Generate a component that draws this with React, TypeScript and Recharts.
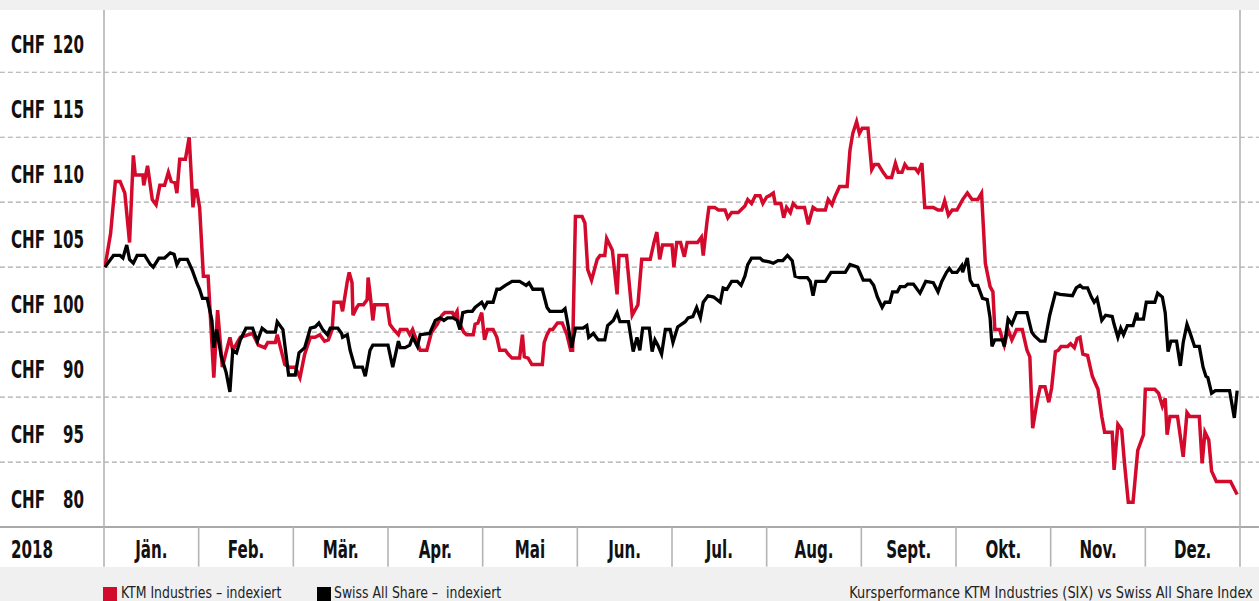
import React from "react";
import { LineChart, Line, XAxis, YAxis, ReferenceLine } from "recharts";

// ---------- data ----------
const monthLabels = ["Jän.", "Feb.", "Mär.", "Apr.", "Mai", "Jun.", "Jul.", "Aug.", "Sept.", "Okt.", "Nov.", "Dez."];
const monthTicks = [0.5, 1.5, 2.5, 3.5, 4.5, 5.5, 6.5, 7.5, 8.5, 9.5, 10.5, 11.5];
const monthBoundaries = [1, 2, 3, 4, 5, 6, 7, 8, 9, 10, 11];
const yearLabel = "2018";

const yTickValues = [82.5, 87.5, 92.5, 97.5, 102.5, 107.5, 112.5, 117.5];
const yTickNumbers = ["80", "95", "90", "100", "105", "110", "115", "120"];
const gridValues = [85, 90, 95, 100, 105, 110, 115];

const seriesNames = ["KTM Industries – indexiert", "Swiss All Share –  indexiert"];
const caption = "Kursperformance KTM Industries (SIX) vs Swiss All Share Index";

// [month position, indexed value]
const ktmSeries: [number, number][] = [
  [0.01, 100.0], [0.07, 102.6], [0.12, 106.6], [0.17, 106.6], [0.22, 105.7], [0.27, 101.9], [0.31, 108.6],
  [0.33, 107.1], [0.41, 107.1], [0.42, 106.3], [0.46, 107.8], [0.51, 105.2], [0.55, 104.8], [0.59, 106.3],
  [0.64, 106.3], [0.68, 107.3], [0.71, 106.6], [0.75, 106.5], [0.77, 105.7], [0.8, 108.3], [0.86, 108.3],
  [0.9, 110.0], [0.94, 104.6], [0.96, 105.9], [0.98, 105.9], [1.01, 104.6], [1.05, 99.3], [1.1, 99.3],
  [1.16, 91.5], [1.2, 96.7], [1.25, 92.3], [1.33, 94.6], [1.36, 93.6], [1.44, 94.6], [1.57, 94.9],
  [1.63, 94.0], [1.7, 93.8], [1.73, 94.2], [1.81, 94.2], [1.83, 94.8], [1.91, 92.5], [1.96, 92.3],
  [2.02, 92.3], [2.07, 91.5], [2.12, 93.3], [2.18, 94.6], [2.23, 94.6], [2.28, 94.8], [2.33, 94.3],
  [2.37, 94.4], [2.41, 95.2], [2.43, 97.3], [2.5, 97.3], [2.52, 96.6], [2.57, 98.9], [2.59, 99.6],
  [2.62, 98.8], [2.63, 96.3], [2.67, 96.9], [2.69, 97.1], [2.74, 97.1], [2.78, 97.5], [2.79, 99.2],
  [2.81, 98.0], [2.84, 95.9], [2.86, 97.1], [2.99, 97.1], [3.02, 95.6], [3.06, 95.2], [3.11, 94.8],
  [3.13, 95.2], [3.2, 95.2], [3.23, 94.8], [3.26, 95.2], [3.31, 94.2], [3.34, 93.6], [3.41, 93.6],
  [3.46, 95.0], [3.52, 95.6], [3.57, 96.3], [3.6, 96.5], [3.68, 96.5], [3.7, 96.2], [3.73, 96.6],
  [3.74, 95.9], [3.76, 95.6], [3.8, 95.0], [3.83, 94.8], [3.9, 94.8], [3.92, 95.6], [3.95, 95.7],
  [3.99, 96.5], [4.02, 94.4], [4.05, 95.2], [4.11, 95.2], [4.15, 94.6], [4.18, 93.6], [4.24, 93.6],
  [4.27, 93.3], [4.31, 93.0], [4.39, 93.0], [4.42, 94.8], [4.44, 93.1], [4.48, 93.0], [4.52, 92.5],
  [4.63, 92.5], [4.65, 94.2], [4.68, 94.8], [4.71, 95.2], [4.74, 95.2], [4.79, 95.7], [4.84, 95.7],
  [4.89, 94.8], [4.93, 93.6], [4.95, 93.6], [4.98, 103.9], [5.05, 103.9], [5.08, 103.4], [5.11, 99.8],
  [5.15, 99.0], [5.21, 100.6], [5.24, 100.9], [5.29, 100.9], [5.31, 102.2], [5.37, 101.3], [5.42, 97.9],
  [5.44, 100.9], [5.52, 100.9], [5.58, 96.3], [5.64, 97.1], [5.68, 100.6], [5.77, 100.6], [5.81, 101.9],
  [5.84, 102.7], [5.87, 100.6], [5.9, 101.7], [6.0, 101.7], [6.02, 100.0], [6.05, 101.9], [6.09, 101.9],
  [6.13, 100.8], [6.16, 101.9], [6.27, 101.9], [6.31, 102.3], [6.33, 100.9], [6.37, 103.5], [6.39, 104.6],
  [6.45, 104.6], [6.49, 104.4], [6.56, 104.4], [6.59, 103.8], [6.63, 104.2], [6.7, 104.2], [6.77, 104.7],
  [6.8, 105.2], [6.84, 104.9], [6.88, 105.5], [6.93, 105.5], [6.96, 104.9], [7.0, 105.4], [7.03, 105.5],
  [7.07, 105.7], [7.09, 104.9], [7.15, 104.9], [7.18, 103.8], [7.21, 104.6], [7.25, 104.2], [7.28, 104.9],
  [7.32, 104.6], [7.4, 104.6], [7.44, 103.3], [7.49, 104.6], [7.53, 104.4], [7.62, 104.4], [7.65, 105.2],
  [7.69, 104.8], [7.72, 105.4], [7.77, 106.2], [7.85, 106.2], [7.88, 109.0], [7.91, 110.3], [7.95, 111.2],
  [7.98, 110.3], [8.01, 110.7], [8.07, 110.7], [8.11, 107.5], [8.14, 107.9], [8.18, 107.9], [8.23, 107.3],
  [8.27, 106.9], [8.32, 106.9], [8.36, 108.0], [8.39, 107.3], [8.43, 107.3], [8.46, 107.9], [8.49, 107.6],
  [8.57, 107.6], [8.6, 107.3], [8.64, 108.0], [8.67, 104.6], [8.76, 104.6], [8.81, 104.4], [8.85, 104.4],
  [8.88, 105.1], [8.92, 104.0], [8.96, 104.4], [9.01, 104.4], [9.04, 104.8], [9.07, 105.2], [9.12, 105.7],
  [9.17, 105.2], [9.23, 105.2], [9.27, 105.7], [9.31, 100.3], [9.36, 98.5], [9.39, 98.1], [9.41, 95.2],
  [9.46, 95.2], [9.51, 94.0], [9.55, 95.2], [9.59, 94.4], [9.64, 95.2], [9.7, 95.2], [9.75, 93.6],
  [9.78, 93.1], [9.81, 87.6], [9.86, 89.8], [9.89, 90.8], [9.94, 90.8], [9.98, 89.6], [10.01, 90.7],
  [10.05, 93.5], [10.08, 93.6], [10.11, 93.9], [10.18, 93.9], [10.21, 94.1], [10.25, 93.8], [10.28, 94.5],
  [10.31, 94.6], [10.34, 93.3], [10.39, 93.2], [10.44, 91.6], [10.47, 91.1], [10.5, 90.6], [10.54, 88.5],
  [10.57, 87.3], [10.65, 87.3], [10.67, 84.4], [10.71, 87.9], [10.75, 87.5], [10.78, 84.9], [10.82, 81.9],
  [10.87, 81.9], [10.92, 85.9], [10.98, 87.1], [11.0, 90.6], [11.1, 90.6], [11.14, 90.3], [11.18, 89.3],
  [11.21, 89.9], [11.23, 87.1], [11.26, 88.5], [11.34, 88.5], [11.4, 85.4], [11.44, 88.8], [11.47, 88.5],
  [11.57, 88.5], [11.6, 84.9], [11.63, 87.3], [11.67, 86.7], [11.7, 84.3], [11.75, 83.5], [11.9, 83.5],
  [11.97, 82.5],
];

const sasSeries: [number, number][] = [
  [0.01, 100.0], [0.1, 100.9], [0.17, 100.9], [0.2, 100.7], [0.24, 101.7], [0.27, 100.6], [0.31, 100.3],
  [0.35, 100.9], [0.43, 100.9], [0.49, 100.2], [0.52, 100.0], [0.58, 100.7], [0.64, 100.7], [0.7, 101.1],
  [0.74, 101.0], [0.77, 100.2], [0.8, 100.6], [0.88, 100.6], [0.93, 99.8], [0.98, 98.8], [1.01, 98.3],
  [1.04, 97.6], [1.09, 97.6], [1.14, 95.9], [1.16, 93.8], [1.19, 95.2], [1.24, 93.1], [1.29, 91.9],
  [1.33, 90.4], [1.36, 93.6], [1.4, 93.4], [1.44, 94.4], [1.5, 95.3], [1.57, 95.3], [1.62, 94.3],
  [1.67, 95.3], [1.72, 95.0], [1.81, 95.0], [1.83, 95.8], [1.89, 95.2], [1.95, 91.7], [2.02, 91.7],
  [2.06, 93.4], [2.12, 93.8], [2.18, 95.3], [2.23, 95.4], [2.27, 95.7], [2.31, 95.2], [2.36, 94.8],
  [2.39, 95.3], [2.47, 95.3], [2.51, 94.9], [2.52, 94.6], [2.57, 94.8], [2.6, 93.6], [2.65, 92.3],
  [2.73, 92.3], [2.76, 91.6], [2.81, 93.6], [2.84, 94.0], [3.0, 94.0], [3.05, 92.3], [3.11, 94.3],
  [3.13, 93.8], [3.18, 93.8], [3.23, 94.0], [3.26, 94.6], [3.31, 93.9], [3.34, 94.8], [3.44, 94.9],
  [3.5, 95.9], [3.55, 96.1], [3.59, 95.9], [3.63, 96.1], [3.69, 96.1], [3.73, 95.9], [3.76, 95.2],
  [3.79, 96.5], [3.84, 96.6], [3.89, 96.6], [3.92, 96.9], [3.99, 97.3], [4.02, 96.9], [4.05, 97.3],
  [4.11, 97.3], [4.15, 98.3], [4.18, 98.3], [4.24, 98.6], [4.31, 98.9], [4.39, 98.9], [4.46, 98.6],
  [4.49, 98.8], [4.53, 98.3], [4.63, 98.3], [4.68, 96.9], [4.71, 96.6], [4.84, 96.6], [4.87, 96.8],
  [4.9, 95.6], [4.94, 93.8], [4.98, 95.3], [5.06, 95.3], [5.1, 95.5], [5.12, 94.6], [5.17, 94.9],
  [5.22, 94.4], [5.29, 94.4], [5.32, 95.5], [5.38, 95.9], [5.42, 96.5], [5.45, 95.8], [5.54, 95.8],
  [5.59, 93.5], [5.63, 94.6], [5.66, 93.6], [5.69, 95.3], [5.76, 95.3], [5.79, 93.5], [5.82, 94.4],
  [5.85, 94.0], [5.89, 93.3], [5.93, 95.2], [5.98, 95.2], [6.01, 94.2], [6.06, 95.4], [6.14, 95.8],
  [6.17, 96.1], [6.22, 96.2], [6.26, 96.9], [6.3, 96.1], [6.33, 97.3], [6.38, 97.8], [6.44, 97.7],
  [6.51, 97.3], [6.54, 98.4], [6.58, 98.3], [6.63, 98.9], [6.69, 98.9], [6.73, 98.6], [6.77, 99.3],
  [6.8, 100.2], [6.84, 100.7], [6.93, 100.7], [6.96, 100.5], [7.03, 100.4], [7.07, 100.3], [7.12, 100.5],
  [7.17, 100.5], [7.22, 100.9], [7.27, 100.5], [7.3, 99.3], [7.35, 99.2], [7.43, 99.2], [7.46, 98.9],
  [7.49, 97.8], [7.52, 98.9], [7.62, 98.9], [7.68, 99.6], [7.72, 99.6], [7.83, 99.6], [7.88, 100.2],
  [7.96, 100.0], [8.02, 99.0], [8.09, 99.0], [8.13, 98.6], [8.17, 97.7], [8.22, 96.9], [8.25, 97.3],
  [8.3, 97.3], [8.33, 98.1], [8.38, 98.1], [8.41, 98.5], [8.46, 98.5], [8.49, 98.7], [8.55, 98.7],
  [8.62, 98.0], [8.68, 98.9], [8.76, 98.8], [8.81, 98.1], [8.85, 98.9], [8.9, 99.6], [8.93, 99.9],
  [8.96, 99.6], [9.01, 99.6], [9.06, 100.1], [9.07, 99.6], [9.12, 100.7], [9.15, 99.0], [9.18, 98.6],
  [9.23, 98.6], [9.28, 97.6], [9.33, 97.5], [9.36, 96.1], [9.38, 93.9], [9.41, 94.4], [9.49, 94.4],
  [9.51, 93.9], [9.55, 96.0], [9.59, 95.6], [9.64, 96.5], [9.75, 96.5], [9.8, 95.0], [9.83, 94.7],
  [9.89, 94.3], [9.94, 94.3], [9.99, 96.3], [10.05, 98.0], [10.1, 97.9], [10.23, 97.8], [10.27, 98.4],
  [10.31, 98.6], [10.34, 98.4], [10.39, 98.4], [10.43, 97.7], [10.46, 97.3], [10.49, 97.6], [10.54, 95.9],
  [10.58, 96.3], [10.65, 96.2], [10.67, 95.6], [10.71, 94.6], [10.74, 95.3], [10.77, 94.8], [10.81, 95.5],
  [10.87, 95.5], [10.91, 96.5], [10.92, 96.0], [10.98, 96.0], [11.01, 97.3], [11.1, 97.3], [11.13, 98.0],
  [11.18, 97.7], [11.21, 96.5], [11.24, 93.5], [11.27, 94.3], [11.33, 94.3], [11.37, 92.4], [11.4, 94.2],
  [11.44, 95.6], [11.47, 95.0], [11.52, 93.9], [11.57, 93.9], [11.61, 92.3], [11.64, 91.6], [11.66, 91.5],
  [11.7, 90.3], [11.74, 90.5], [11.89, 90.5], [11.94, 88.4], [11.97, 90.5],
];

// ---------- styling ----------
const RED = "#d40a2d";
const BLACK = "#000000";
const GRID = "#a9a9a9";
const BAND = "#f0f0f0";
const COND = '"DejaVu Sans Condensed", "Liberation Sans Narrow", sans-serif';
const SQUEEZE = 0.7;
const LEGEND_SQUEEZE = 0.84;

const ktmData = ktmSeries.map(([m, v]) => ({ m, v }));
const sasData = sasSeries.map(([m, v]) => ({ m, v }));

const YTick = (props: any) => {
  const { y, payload } = props;
  const idx = yTickValues.indexOf(payload.value);
  const num = idx >= 0 ? yTickNumbers[idx] : "";
  const base = y + 13;
  return (
    <g>
      <g transform={`translate(11, ${base}) scale(${SQUEEZE}, 1)`}>
        <text x={0} y={0} fontFamily={COND} fontWeight="bold" fontSize={24} fill="#111" textAnchor="start">
          CHF
        </text>
      </g>
      <g transform={`translate(84, ${base}) scale(${SQUEEZE}, 1)`}>
        <text x={0} y={0} fontFamily={COND} fontWeight="bold" fontSize={24} fill="#111" textAnchor="end">
          {num}
        </text>
      </g>
    </g>
  );
};

const XTick = (props: any) => {
  const { x, payload } = props;
  const idx = monthTicks.indexOf(payload.value);
  const label = idx >= 0 ? monthLabels[idx] : "";
  return (
    <g transform={`translate(${x}, 558) scale(${SQUEEZE}, 1)`}>
      <text x={0} y={0} fontFamily={COND} fontWeight="bold" fontSize={24} fill="#111" textAnchor="middle">
        {label}
      </text>
    </g>
  );
};

export default function App() {
  return (
    <div style={{ position: "relative", width: 1259, height: 601, background: BAND, overflow: "hidden" }}>
      <style>{"body{margin:0}"}</style>
      <div style={{ position: "absolute", left: 0, top: 10, width: 1259, height: 557, background: "#ffffff" }} />
      <div style={{ position: "absolute", left: 0, top: 0 }}>
        <LineChart width={1259} height={567} margin={{ top: 7.3, right: 19, bottom: 0, left: 0 }}>
          <XAxis
            dataKey="m"
            type="number"
            domain={[0, 12]}
            ticks={monthTicks}
            allowDataOverflow
            axisLine={false}
            tickLine={false}
            height={40}
            tick={<XTick />}
            interval={0}
          />
          <YAxis
            type="number"
            domain={[80, 120]}
            ticks={yTickValues}
            allowDataOverflow
            axisLine={false}
            tickLine={false}
            width={104}
            tick={<YTick />}
            interval={0}
          />
          {gridValues.map((v) => (
            <ReferenceLine
              key={`g${v}`}
              segment={[{ x: -1.1, y: v }, { x: 12.2, y: v }]}
              stroke={GRID}
              strokeWidth={1.2}
              strokeDasharray="5 3"
              ifOverflow="visible"
            />
          ))}
          <ReferenceLine
            segment={[{ x: -1.1, y: 80 }, { x: 12.2, y: 80 }]}
            stroke={GRID}
            strokeWidth={2}
            ifOverflow="visible"
          />
          {[0, 12].map((b) => (
            <ReferenceLine
              key={`e${b}`}
              segment={[{ x: b, y: 76.95 }, { x: b, y: 119.8 }]}
              strokeWidth={1.6}
              stroke="#b4b4b4"
              ifOverflow="visible"
            />
          ))}
          {monthBoundaries.map((b) => (
            <ReferenceLine
              key={`s${b}`}
              segment={[{ x: b, y: 76.95 }, { x: b, y: 80 }]}
              strokeWidth={1.6}
              stroke="#b4b4b4"
              ifOverflow="visible"
            />
          ))}
          <Line
            data={ktmData}
            dataKey="v"
            type="linear"
            stroke={RED}
            strokeWidth={3.5}
            dot={false}
            activeDot={false}
            isAnimationActive={false}
          />
          <Line
            data={sasData}
            dataKey="v"
            type="linear"
            stroke={BLACK}
            strokeWidth={3.3}
            dot={false}
            activeDot={false}
            isAnimationActive={false}
          />
        </LineChart>
      </div>
      <div
        style={{
          position: "absolute",
          left: 11,
          top: 536,
          fontFamily: COND,
          fontWeight: "bold",
          fontSize: 24,
          lineHeight: "28px",
          color: "#111",
          transform: `scaleX(${SQUEEZE})`,
          transformOrigin: "left top",
          whiteSpace: "pre",
        }}
      >
        {yearLabel}
      </div>
      {[
        { color: RED, left: 103, textLeft: 121 },
        { color: BLACK, left: 317, textLeft: 334 },
      ].map((it, i) => (
        <React.Fragment key={i}>
          <div style={{ position: "absolute", left: it.left, top: 587, width: 14, height: 14, background: it.color }} />
          <div
            style={{
              position: "absolute",
              left: it.textLeft,
              top: 583,
              fontFamily: COND,
              fontSize: 16.5,
              lineHeight: "20px",
              color: "#222",
              whiteSpace: "pre",
              transform: `scaleX(${LEGEND_SQUEEZE})`,
              transformOrigin: "left top",
            }}
          >
            {seriesNames[i]}
          </div>
        </React.Fragment>
      ))}
      <div
        style={{
          position: "absolute",
          right: 6,
          top: 583,
          fontFamily: COND,
          fontSize: 16.5,
          lineHeight: "20px",
          color: "#222",
          whiteSpace: "pre",
          transform: `scaleX(${LEGEND_SQUEEZE + 0.03})`,
          transformOrigin: "right top",
        }}
      >
        {caption}
      </div>
    </div>
  );
}
